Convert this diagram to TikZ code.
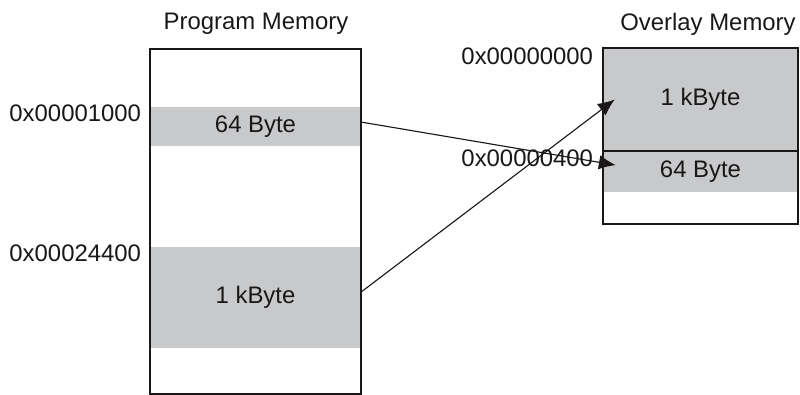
\documentclass[tikz,border=0pt]{standalone}
\usepackage{fontspec}
\setmainfont{Liberation Sans}
\usetikzlibrary{arrows.meta}
\definecolor{memgray}{HTML}{C8C9CB}
\definecolor{ink}{HTML}{1A1718}
\begin{document}
\begin{tikzpicture}[every node/.style={font=\fontsize{17}{20}\selectfont, text=ink},
  band/.style={fill=memgray, inner sep=0pt},
  link/.style={-{Latex[length=4.2mm,width=3.6mm]}, line width=0.8pt, ink}]
  \useasboundingbox (0,0) rectangle (20,-9.875);

  % program memory
  \node (ptitle) at (6.4,-0.6) {Program Memory};
  \node[band, minimum width=5.275cm, minimum height=0.975cm] (p64) at (6.3875,-3.1625) {64 Byte};
  \node[band, minimum width=5.275cm, minimum height=2.525cm] (p1k) at (6.3875,-7.4375) {1 kByte};
  \draw[line width=2.1pt, ink] (3.75,-1.225) rectangle (9.025,-9.85);

  \node[anchor=east] (a1000) at (3.65,-2.84) {0x00001000};
  \node[anchor=east] (a24400) at (3.65,-6.34) {0x00024400};

  % overlay memory
  \node (otitle) at (17.7,-0.6) {Overlay Memory};
  \node[band, minimum width=4.875cm, minimum height=2.575cm] (o1k) at (17.5125,-2.4875) {1 kByte};
  \node[band, minimum width=4.875cm, minimum height=1.025cm] (o64) at (17.5125,-4.2875) {64 Byte};
  \draw[line width=1.4pt, ink] (o1k.south west) -- (o1k.south east);
  \draw[line width=2.1pt, ink] (15.075,-1.2) rectangle (19.95,-5.6);

  \node[anchor=east] (a0) at (14.95,-1.4) {0x00000000};
  \node[anchor=east] (a400) at (14.95,-3.95) {0x00000400};

  \draw[link] ([yshift=1.1mm]p64.east) -- ([shift={(3.25mm,1.6mm)}]o64.west);
  \draw[link] ([yshift=1.4mm]p1k.east) -- ([xshift=3mm]o1k.west);
\end{tikzpicture}
\end{document}
